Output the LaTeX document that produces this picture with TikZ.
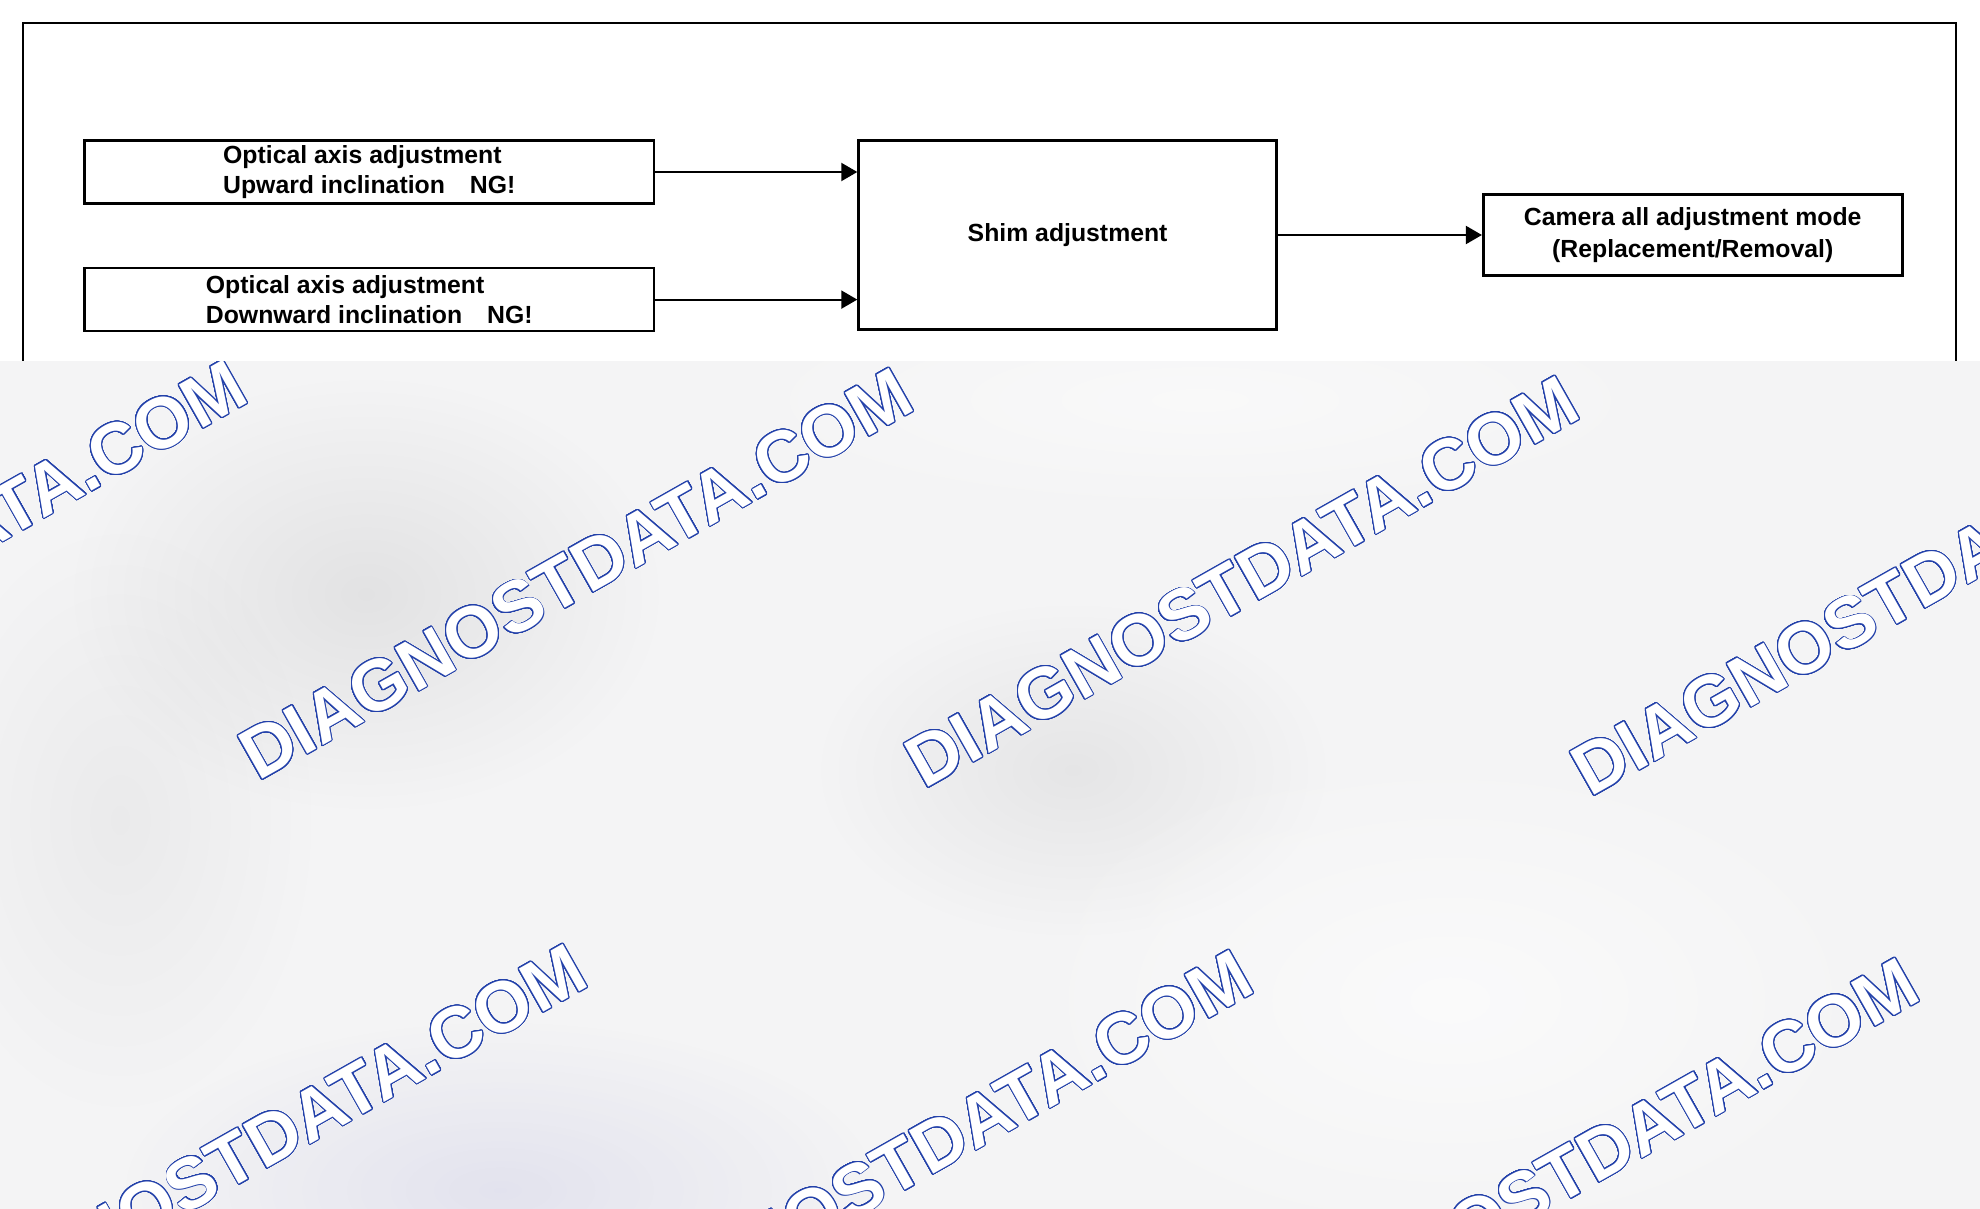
\documentclass[tikz,border=0pt]{standalone}
\usepackage{fontspec}
\setmainfont{Liberation Sans}
\usepackage{contour}
\usepackage{tikz}
\usetikzlibrary{positioning}
\usetikzlibrary{calc}
\usetikzlibrary{arrows.meta}
\usetikzlibrary{fadings}

\definecolor{wmblue}{RGB}{35,65,170}
\definecolor{wmback}{RGB}{244,244,245}
\contourlength{0.5pt}
\contournumber{32}
\tikzfading[name=blobfade, inner color=transparent!0, outer color=transparent!100]

\begin{document}
\begin{tikzpicture}[x=0.5pt, y=-0.5pt,
stage/.style={rectangle, draw=black, fill=white, line width=1.3pt, align=left, inner sep=0pt, font=\bfseries\fontsize{12.4}{15}\selectfont, node distance=31pt and 101pt},
flow/.style={-{Triangle[length=8pt, width=9pt]}, line width=1pt},
wmtext/.style={anchor=base west, rotate=29.5, inner sep=0pt, text=white, font=\bfseries\fontsize{36}{40}\selectfont},]

\useasboundingbox (0,0) rectangle (1980,1209);
\fill[white] (0,0) rectangle (1980,361);
\draw[line width=1pt] (22.7,361) |- (1956,22.7) -- (1956,361);

\node[stage, minimum width=284.7pt, minimum height=31.5pt] (opt_up) at (369.3,172) {Optical axis adjustment\\Upward inclination\hspace{12.5pt}NG!};
\node[stage, minimum width=284.7pt, minimum height=31.5pt] (opt_down) [below=of opt_up] {Optical axis adjustment\\Downward inclination\hspace{12.5pt}NG!};
\node[stage, minimum width=209pt, minimum height=94.5pt] (shim) [right=of opt_up.north east, anchor=north west] {Shim adjustment};
\node[stage, minimum width=209.5pt, minimum height=40.5pt, align=center, font=\bfseries\fontsize{12.4}{16}\selectfont] (cam_mode) [right=102pt of shim] {Camera all adjustment mode\\(Replacement/Removal)};

\draw[flow] (opt_up.east) -- (opt_up.east -| shim.west);
\draw[flow] (opt_down.east) -- (opt_down.east -| shim.west);
\draw[flow] (shim.east) -- (cam_mode.west);

% watermark area
\begin{scope}
\clip (0,361) rectangle (1980,1209);
\fill[wmback] (0,361) rectangle (1980,1209);
\fill[black, opacity=0.07, path fading=blobfade] (366,594) ellipse (300 and 220);
\fill[black, opacity=0.06, path fading=blobfade] (1073,770) ellipse (260 and 170);
\fill[black, opacity=0.04, path fading=blobfade] (120,820) ellipse (200 and 300);
\fill[blue!40!gray, opacity=0.10, path fading=blobfade] (500,1190) ellipse (380 and 170);
\fill[white, opacity=0.6, path fading=blobfade] (1450,1000) ellipse (450 and 260);
\fill[white, opacity=0.5, path fading=blobfade] (1200,400) ellipse (500 and 120);
\foreach \x/\y [count=\i] in {-408/774, 258/782, 924/790, 1590/798, -68/1358, 598/1364, 1264/1372}
  \node[wmtext] (wm\i) at (\x,\y) {\contour{wmblue}{DIAGNOSTDATA.COM}};
\end{scope}

\end{tikzpicture}
\end{document}
